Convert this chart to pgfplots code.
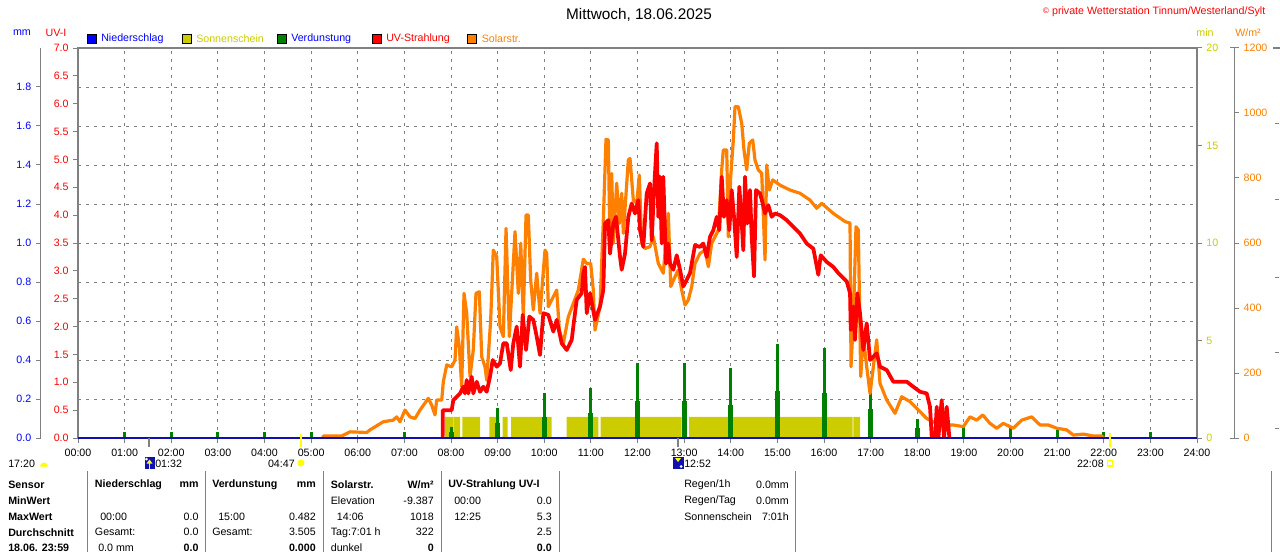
\documentclass[border=0pt]{standalone}
\usepackage{pgfplots}
\pgfplotsset{compat=1.18}
\usepackage{fontspec}
\setmainfont{Liberation Sans}
\definecolor{cBlue}{RGB}{0,0,255}
\definecolor{cNavy}{RGB}{16,16,176}
\definecolor{cSun}{RGB}{204,204,0}
\definecolor{cGreen}{RGB}{0,128,0}
\definecolor{cRed}{RGB}{255,0,0}
\definecolor{cOrange}{RGB}{255,128,0}
\definecolor{cGray}{RGB}{128,128,128}
\definecolor{cYel}{RGB}{255,255,0}
\newcommand{\ft}{\fontsize{8}{9.6}\selectfont}
\pgfplotsset{
  box/.style={scale only axis, width=839.25pt, height=292.5pt,
    at={(58.5pt,-328.5pt)}, anchor=south west, xmin=0, xmax=24},
  every tick label/.append style={font=\ft},
  /pgf/number format/assume math mode=true,
  /pgf/number format/1000 sep={},
}
\begin{document}
\begin{tikzpicture}[x=0.75pt,y=-0.75pt,font=\ft]
\path[use as bounding box] (0,0) rectangle (1280,552);

% ---------- grid, x axis, UV axis ----------
\begin{axis}[box, ymin=0, ymax=7,
  axis line style={cGray, line width=1.5pt},
  xtick={0,1,...,24},
  xticklabels={00:00,01:00,02:00,03:00,04:00,05:00,06:00,07:00,08:00,09:00,10:00,11:00,12:00,13:00,14:00,15:00,16:00,17:00,18:00,19:00,20:00,21:00,22:00,23:00,24:00},
  xticklabel style={yshift=-1.5pt},
  xtick pos=bottom, ytick pos=left,
  ytick={0,0.5,...,7},
  yticklabel style={text=cRed, /pgf/number format/fixed, /pgf/number format/fixed zerofill, /pgf/number format/precision=1},
  tick align=outside, major tick length=3.5pt,
  major tick style={cGray, line width=0.75pt},
  xmajorgrids=true,
  grid style={cGray, line width=0.75pt, dash pattern=on 2.6pt off 3.4pt},
  extra y ticks={0.7,1.4,2.1,2.8,3.5,4.2,4.9,5.6,6.3},
  extra y tick labels={},
  extra y tick style={ymajorgrids=true, major tick length=0pt},
]
\end{axis}

% ---------- Sonnenschein (min) ----------
\begin{axis}[box, ymin=0, ymax=20, hide axis]
\addplot[draw=none, fill=cSun] coordinates {
(7.871,0)(7.871,1.08)(8.049,1.08)(8.049,0)
(8.064,0)(8.064,1.08)(8.193,1.08)(8.193,0)
(8.242,0)(8.242,1.08)(8.622,1.08)(8.622,0)
(8.822,0)(8.822,1.08)(9.036,1.08)(9.036,0)
(9.109,0)(9.109,1.08)(9.216,1.08)(9.216,0)
(9.287,0)(9.287,1.08)(10.160,1.08)(10.160,0)
(10.482,0)(10.482,1.08)(11.159,1.08)(11.159,0)
(11.211,0)(11.211,1.08)(12.948,1.08)(12.948,0)
(13.105,0)(13.105,1.08)(16.616,1.08)(16.616,0)
(16.628,0)(16.628,1.08)(16.772,1.08)(16.772,0)
};
\end{axis}

% ---------- Verdunstung (mm) ----------
\begin{axis}[box, ymin=0, ymax=2, hide axis]
\addplot[ycomb, draw=cGreen, line width=3.75pt] coordinates {
(8,0.03)(9,0.078)(10,0.11)(11,0.128)(12,0.19)(13,0.19)(14,0.17)(15,0.24)(16,0.23)(17,0.15)(18,0.05)
};
\addplot[ycomb, draw=cGreen, line width=2.25pt] coordinates {
(1,0.03)(2,0.03)(3,0.03)(4,0.03)(5,0.03)(7,0.032)(8,0.058)(9,0.155)(10,0.229)(11,0.258)
(12,0.383)(13,0.383)(14,0.357)(15,0.482)(16,0.46)(17,0.306)(18,0.10)(19,0.055)(20,0.055)
(21,0.055)(22,0.029)(23,0.029)
};
\end{axis}

% ---------- Solarstrahlung (W/m2) ----------
\begin{axis}[box, ymin=0, ymax=1200, hide axis]
\addplot[cOrange, line width=2.4pt, line join=round] coordinates {
(5.25,0)(5.261,6)(5.656,6)(5.834,19)(6.192,17)(6.263,25)(6.548,50)(6.762,55)(6.835,65)(6.906,50)
(7.013,86)(7.121,65)(7.228,60)(7.335,86)(7.513,122)(7.586,101)(7.657,71)(7.693,117)(7.801,117)
(7.835,173)(7.908,225)(8.015,219)(8.086,240)(8.122,342)(8.178,281)(8.229,158)(8.279,445)
(8.337,384)(8.408,189)(8.478,271)(8.536,445)(8.607,450)(8.659,250)(8.729,219)(8.766,178)
(8.851,363)(8.907,578)(8.980,558)(9.051,342)(9.122,312)(9.180,645)(9.251,312)(9.373,635)
(9.444,445)(9.495,599)(9.551,373)(9.609,686)(9.658,686)(9.709,486)(9.765,394)(9.838,507)
(9.909,384)(10.016,578)(10.053,568)(10.087,404)(10.160,425)(10.267,455)(10.323,332)(10.409,291)
(10.516,373)(10.730,455)(10.838,550)(10.911,537)(10.996,537)(11.052,455)(11.088,332)(11.196,404)
(11.267,671)(11.324,919)(11.374,917)(11.410,578)(11.447,814)(11.481,599)(11.554,784)(11.610,660)
(11.661,753)(11.696,630)(11.803,855)(11.839,860)(11.910,732)(11.983,722)(12.039,809)(12.090,599)
(12.161,583)(12.268,589)(12.339,619)(12.446,537)(12.553,507)(12.661,691)(12.712,466)(12.804,496)
(12.875,517)(12.948,455)(13.019,409)(13.090,425)(13.163,466)(13.233,537)(13.340,568)(13.448,578)
(13.519,527)(13.591,599)(13.662,619)(13.733,640)(13.806,825)(13.840,886)(13.913,886)(13.948,619)
(13.999,804)(14.055,917)(14.091,1019)(14.162,1019)(14.235,968)(14.284,886)(14.342,825)(14.398,907)
(14.471,917)(14.520,855)(14.591,825)(14.664,814)(14.735,548)(14.771,840)(14.827,763)(14.900,794)
(15.056,778)(15.271,763)(15.485,753)(15.700,732)(15.843,707)(15.951,722)(16.200,691)(16.450,666)
(16.558,661)(16.579,219)(16.629,363)(16.686,650)(16.736,640)(16.787,189)(16.843,312)(16.916,219)
(16.987,137)(17.058,219)(17.130,302)(17.201,168)(17.345,117)(17.523,76)(17.666,127)(17.845,112)
(18.023,86)(18.203,60)(18.488,40)(18.773,40)(18.988,35)(19.131,65)(19.275,55)(19.404,71)
(19.560,45)(19.704,30)(19.846,45)(20.060,30)(20.240,55)(20.455,65)(20.633,40)(20.811,40)
(20.991,30)(21.205,25)(21.347,9)(21.562,12)(21.776,6)(21.956,6)(22.0,0)
};
\end{axis}

% ---------- UV-Strahlung (UV-I) ----------
\begin{axis}[box, ymin=0, ymax=7, hide axis]
\addplot[cRed, line width=2.8pt, line join=round] coordinates {
(7.82,0)(7.823,0.50)(8.015,0.50)(8.049,0.68)(8.122,0.74)(8.193,0.80)(8.264,0.92)(8.300,0.80)
(8.337,1.04)(8.371,0.80)(8.444,1.10)(8.478,0.80)(8.551,1.01)(8.622,0.83)(8.693,0.92)(8.766,0.83)
(8.836,1.10)(8.894,1.40)(8.980,1.28)(9.051,1.34)(9.122,1.70)(9.195,1.70)(9.281,1.22)(9.336,1.70)
(9.409,2.00)(9.480,1.28)(9.538,2.21)(9.609,1.58)(9.680,2.18)(9.765,2.12)(9.838,1.82)(9.909,1.49)
(9.980,2.24)(10.087,2.21)(10.194,1.91)(10.267,2.12)(10.374,1.70)(10.482,1.58)(10.589,1.76)
(10.623,2.00)(10.696,2.48)(10.803,2.60)(10.838,2.96)(10.874,3.07)(10.911,2.24)(10.981,2.60)
(11.088,2.12)(11.196,2.36)(11.267,2.66)(11.303,3.85)(11.374,3.91)(11.410,3.31)(11.481,3.85)
(11.539,3.97)(11.625,3.25)(11.661,3.02)(11.732,3.31)(11.803,3.97)(11.876,4.21)(11.946,4.03)
(12.017,4.27)(12.054,3.73)(12.124,3.43)(12.197,4.39)(12.268,4.57)(12.305,3.55)(12.354,4.45)
(12.412,5.29)(12.446,3.97)(12.483,4.69)(12.519,3.49)(12.553,4.69)(12.611,3.13)(12.661,3.49)
(12.697,3.13)(12.768,3.02)(12.841,3.28)(12.912,3.02)(12.982,2.72)(13.055,2.84)(13.126,2.96)
(13.233,3.46)(13.340,3.43)(13.411,3.49)(13.484,3.25)(13.555,3.61)(13.626,3.73)(13.699,3.97)
(13.754,3.73)(13.806,4.69)(13.855,3.97)(13.913,4.27)(13.969,3.73)(14.020,4.45)(14.070,3.97)
(14.128,3.25)(14.184,4.51)(14.235,3.85)(14.269,3.37)(14.306,4.69)(14.355,3.85)(14.413,4.45)
(14.449,3.61)(14.499,2.90)(14.542,4.45)(14.627,4.39)(14.685,4.21)(14.735,4.03)(14.805,4.18)
(14.878,3.97)(14.949,4.03)(15.056,4.00)(15.200,3.91)(15.342,3.79)(15.485,3.67)(15.629,3.49)
(15.771,3.40)(15.878,2.93)(15.929,3.28)(16.058,3.16)(16.200,3.07)(16.307,2.96)(16.487,2.81)
(16.558,2.60)(16.573,1.94)(16.629,2.36)(16.665,1.76)(16.714,2.60)(16.772,2.24)(16.843,1.58)
(16.916,2.06)(16.987,1.40)(17.058,1.46)(17.130,1.52)(17.201,1.28)(17.345,1.22)(17.486,1.01)
(17.774,1.01)(17.915,0.92)(18.059,0.83)(18.203,0.80)(18.273,0.56)(18.310,0.02)(18.381,0.0)
(18.417,0.56)(18.452,0.0)(18.524,0.68)(18.574,0.0)(18.632,0.56)(18.689,0.0)
};
\end{axis}

% ---------- frame, min axis, Niederschlag ----------
\begin{axis}[box, ymin=0, ymax=20, clip=false,
  axis line style={cGray, line width=1.5pt},
  xtick=\empty, ytick={0,5,10,15,20}, ytick pos=right,
  tick align=outside, major tick length=3.5pt,
  major tick style={cGray, line width=0.75pt},
  yticklabel style={text=cSun},
]
\addplot[cNavy, line width=1.5pt] coordinates {(0,0)(24,0)};
\draw[cGray, line width=1.5pt] (axis cs:1.5333,0) -- ++(0,-6.75pt);
\draw[cGray, line width=1.5pt] (axis cs:12.8667,0) -- ++(0,-6.75pt);
\draw[cYel, line width=1.5pt] (axis cs:4.7833,0) ++(0,3pt) -- ++(0,-9.75pt);
\draw[cYel, line width=1.5pt] (axis cs:22.1333,0) ++(0,3.5pt) -- ++(0,-10.25pt);
\end{axis}

% ---------- mm axis ----------
\begin{axis}[scale only axis, width=1pt, height=292.5pt, at={(30.5pt,-328.5pt)}, anchor=south west,
  xmin=0, xmax=1, ymin=0, ymax=2, axis x line=none, axis y line*=left,
  axis line style={cGray, line width=0.75pt},
  ytick={0,0.2,0.4,0.6,0.8,1.0,1.2,1.4,1.6,1.8},
  tick align=outside, major tick length=3.5pt, major tick style={cGray, line width=0.75pt},
  yticklabel style={text=cBlue, /pgf/number format/fixed, /pgf/number format/fixed zerofill, /pgf/number format/precision=1},
]
\end{axis}

% ---------- W/m2 axis ----------
\begin{axis}[scale only axis, width=1pt, height=292.5pt, at={(924.7pt,-328.5pt)}, anchor=south west,
  xmin=0, xmax=1, ymin=0, ymax=1200, axis x line=none, axis y line*=right,
  axis line style={cGray, line width=0.75pt},
  ytick={0,200,400,600,800,1000,1200},
  tick align=outside, major tick length=3.5pt, major tick style={cGray, line width=0.75pt},
  yticklabel style={text=cOrange},
  extra y ticks={0,1200}, extra y tick labels={},
  extra y tick style={tick align=center, major tick length=7pt},
]
\end{axis}

% ---------- titles and legend ----------
\node[font=\fontsize{11.5}{13}\selectfont] at (639,15) {Mittwoch, 18.06.2025};
\node[anchor=east, text=cRed] at (1270,12) {\raisebox{0.25ex}{\fontsize{6}{7}\selectfont ©} private Wetterstation Tinnum/Westerland/Sylt};
\node[text=cBlue] at (22,33) {mm};
\node[text=cRed] at (56,33) {UV-I};
\node[text=cSun] at (1205,33) {min};
\node[text=cOrange] at (1248,33) {W/m²};

\draw[black, fill=cBlue] (87.5,34) rectangle (96.5,43);
\node[anchor=west, text=cBlue, inner sep=0pt] at (101,38.5) {Niederschlag};
\draw[black, fill=cSun] (182,34) rectangle (191,43);
\node[anchor=west, text=cSun, inner sep=0pt] at (196,38.5) {Sonnenschein};
\draw[black, fill=cGreen] (277.5,34) rectangle (286.5,43);
\node[anchor=west, text=cBlue, inner sep=0pt] at (291,38.5) {Verdunstung};
\draw[black, fill=cRed] (372,34) rectangle (381,43);
\node[anchor=west, text=cRed, inner sep=0pt] at (386,38.5) {UV-Strahlung};
\draw[black, fill=cOrange] (467,34) rectangle (476,43);
\node[anchor=west, text=cOrange, inner sep=0pt] at (481.5,38.5) {Solarstr.};

% ---------- sun / moon times ----------
\node[anchor=west, inner sep=0pt] at (8,463.5) {17:20};
\fill[cYel] (40,466.5) arc[start angle=180, end angle=360, radius=4] -- cycle;
\fill[cNavy] (144.5,457) rectangle (154.5,469);
\fill[white] (146.5,459) circle[radius=1.5];
\fill[cYel] (149.5,459.5) -- (152.5,463.5) -- (146.5,463.5) -- cycle;
\fill[cYel] (148.8,463) rectangle (150.2,468.5);
\node[anchor=west, inner sep=0pt] at (155,463.5) {01:32};
\node[anchor=east, inner sep=0pt] at (295,463.5) {04:47};
\fill[cYel] (301,463) circle[radius=3.5];
\fill[cNavy] (673,457) rectangle (683.5,469);
\fill[white] (681,466.5) circle[radius=1.5];
\fill[cYel] (675,458) -- (681,458) -- (678,462) -- cycle;
\fill[cYel] (677.3,457.5) rectangle (678.7,461);
\node[anchor=west, inner sep=0pt] at (684,463.5) {12:52};
\node[anchor=east, inner sep=0pt] at (1104,463.5) {22:08};
\draw[cYel, line width=1.2pt] (1107.5,460.5) rectangle (1112.5,466);

% ---------- table ----------
\foreach \xx in {87.8,205.3,323.7,441.6,559,795.5,1271.5}
  \draw[cGray, line width=0.75pt] (\xx,471) -- (\xx,552);
\begin{scope}[every node/.style={inner sep=0pt}]
\node[anchor=west, font=\ft\bfseries] at (8,485) {Sensor};
\node[anchor=west, font=\ft\bfseries] at (8,500.7) {MinWert};
\node[anchor=west, font=\ft\bfseries] at (8,516.7) {MaxWert};
\node[anchor=west, font=\ft\bfseries] at (8,532.3) {Durchschnitt};
\node[anchor=west, font=\ft\bfseries] at (8,547.7) {18.06. 23:59};
\node[anchor=west, font=\ft\bfseries] at (94.7,485) {Niederschlag};
\node[anchor=east, font=\ft\bfseries] at (198.8,485) {mm};
\node[anchor=west] at (100,516.7) {00:00};
\node[anchor=east] at (198.8,516.7) {0.0};
\node[anchor=west] at (94.7,532.3) {Gesamt:};
\node[anchor=east] at (198.8,532.3) {0.0};
\node[anchor=west] at (98,547.7) {0.0 mm};
\node[anchor=east, font=\ft\bfseries] at (198.8,547.7) {0.0};
\node[anchor=west, font=\ft\bfseries] at (212,485) {Verdunstung};
\node[anchor=east, font=\ft\bfseries] at (316,485) {mm};
\node[anchor=west] at (218,516.7) {15:00};
\node[anchor=east] at (316,516.7) {0.482};
\node[anchor=west] at (212,532.3) {Gesamt:};
\node[anchor=east] at (316,532.3) {3.505};
\node[anchor=east, font=\ft\bfseries] at (316,547.7) {0.000};
\node[anchor=west, font=\ft\bfseries] at (330.6,485) {Solarstr.};
\node[anchor=east, font=\ft\bfseries] at (434,485) {W/m²};
\node[anchor=west] at (330.6,500.7) {Elevation};
\node[anchor=east] at (434,500.7) {-9.387};
\node[anchor=west] at (336.7,516.7) {14:06};
\node[anchor=east] at (434,516.7) {1018};
\node[anchor=west] at (330.6,532.3) {Tag:7:01 h};
\node[anchor=east] at (434,532.3) {322};
\node[anchor=west] at (330.6,547.7) {dunkel};
\node[anchor=east, font=\ft\bfseries] at (434,547.7) {0};
\node[anchor=west, font=\ft\bfseries] at (448,485) {UV-Strahlung UV-I};
\node[anchor=west] at (454,500.7) {00:00};
\node[anchor=east] at (552,500.7) {0.0};
\node[anchor=west] at (454,516.7) {12:25};
\node[anchor=east] at (552,516.7) {5.3};
\node[anchor=east] at (552,532.3) {2.5};
\node[anchor=east, font=\ft\bfseries] at (552,547.7) {0.0};
\node[anchor=west] at (684,485) {Regen/1h};
\node[anchor=east] at (789,485) {0.0mm};
\node[anchor=west] at (684,500.7) {Regen/Tag};
\node[anchor=east] at (789,500.7) {0.0mm};
\node[anchor=west] at (684,516.7) {Sonnenschein};
\node[anchor=east] at (789,516.7) {7:01h};
\end{scope}

% ---------- edge of neighbouring chart ----------
\draw[cGray, line width=1.5pt] (1273,48) -- (1280,48);
\foreach \yy in {124,200,277,352,428}
  \draw[cGray, line width=0.75pt] (1275,\yy) -- (1279,\yy);
\end{tikzpicture}
\end{document}
